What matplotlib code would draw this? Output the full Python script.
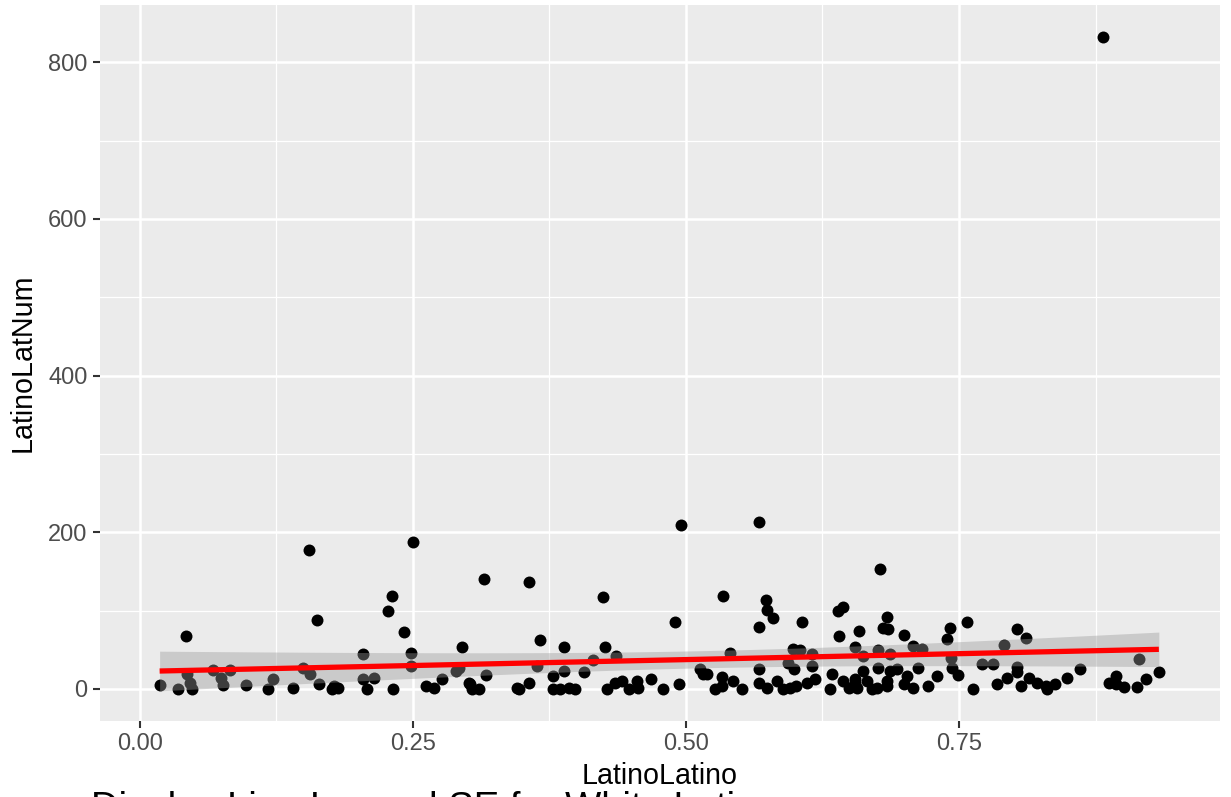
import numpy as np
import matplotlib
matplotlib.use("Agg")
from matplotlib import pyplot as plt
from matplotlib.ticker import MultipleLocator

plt.rcParams['font.family'] = ['Liberation Sans', 'DejaVu Sans']

# share of Latino population vs Latino count
latino_share = [
    0.018, 0.035, 0.042, 0.043, 0.046, 0.048, 0.067, 0.074, 0.076, 0.082,
    0.097, 0.117, 0.122, 0.140, 0.149, 0.156, 0.155, 0.162, 0.164, 0.176,
    0.178, 0.181, 0.204, 0.204, 0.208, 0.214, 0.227, 0.231, 0.232, 0.242,
    0.248, 0.248, 0.250, 0.262, 0.269, 0.277, 0.289, 0.292, 0.295, 0.301,
    0.302, 0.304, 0.310, 0.315, 0.317, 0.345, 0.347, 0.356, 0.356, 0.364,
    0.366, 0.378, 0.378, 0.385, 0.388, 0.388, 0.393, 0.398, 0.407, 0.415,
    0.424, 0.426, 0.428, 0.436, 0.435, 0.441, 0.448, 0.455, 0.456, 0.468,
    0.479, 0.490, 0.494, 0.495, 0.513, 0.516, 0.519, 0.527, 0.533, 0.534,
    0.533, 0.540, 0.543, 0.551, 0.567, 0.567, 0.567, 0.567, 0.573, 0.574,
    0.574, 0.580, 0.583, 0.589, 0.593, 0.595, 0.598, 0.599, 0.601, 0.604,
    0.606, 0.611, 0.615, 0.615, 0.618, 0.632, 0.634, 0.639, 0.644, 0.640,
    0.644, 0.649, 0.655, 0.655, 0.658, 0.662, 0.662, 0.657, 0.666, 0.670,
    0.678, 0.684, 0.680, 0.685, 0.676, 0.687, 0.676, 0.675, 0.684, 0.687,
    0.693, 0.700, 0.708, 0.716, 0.712, 0.702, 0.700, 0.708, 0.722, 0.730,
    0.739, 0.742, 0.743, 0.744, 0.749, 0.757, 0.763, 0.771, 0.781, 0.785,
    0.791, 0.794, 0.803, 0.803, 0.803, 0.807, 0.811, 0.814, 0.821, 0.830,
    0.831, 0.838, 0.849, 0.861, 0.882, 0.887, 0.894, 0.894, 0.901, 0.913,
    0.915, 0.921, 0.933, 0.655, 0.684,
]
latino_num = [
    5, 0, 68, 19, 8, 0, 24, 14, 5, 24,
    5, 0, 12, 1, 27, 19, 177, 88, 6, 0,
    4, 1, 45, 13, 0, 14, 100, 118, 0, 72,
    46, 29, 187, 4, 1, 12, 23, 27, 54, 8,
    6, 0, 0, 140, 18, 1, 0, 8, 136, 29,
    63, 17, 0, 0, 53, 23, 1, 0, 21, 37,
    117, 53, 0, 42, 8, 10, 0, 10, 1, 13,
    0, 86, 6, 209, 26, 19, 19, 0, 15, 118,
    4, 46, 10, 0, 213, 79, 26, 8, 113, 101,
    1, 90, 10, 0, 33, 1, 51, 26, 4, 49,
    86, 8, 45, 29, 13, 0, 19, 100, 104, 67,
    10, 1, 13, 53, 74, 42, 23, 1, 10, 0,
    153, 92, 78, 76, 49, 45, 27, 1, 10, 23,
    26, 69, 55, 51, 27, 17, 6, 1, 4, 17,
    64, 78, 40, 27, 18, 86, 0, 32, 32, 6,
    56, 14, 77, 28, 21, 4, 65, 14, 8, 4,
    0, 6, 14, 26, 832, 8, 17, 6, 3, 3,
    38, 12, 21, 8, 4,
]

x = np.array(latino_share)
y = np.array(latino_num)

# lm fit with 95% confidence band, like geom_smooth(method = "lm")
n = len(x)
slope, intercept = np.polyfit(x, y, 1)
resid = y - (intercept + slope * x)
s = np.sqrt(np.sum(resid ** 2) / (n - 2))
xs = np.linspace(x.min(), x.max(), 80)
fit = intercept + slope * xs
se = s * np.sqrt(1 / n + (xs - x.mean()) ** 2 / np.sum((x - x.mean()) ** 2))
t_crit = 1.974

fig = plt.figure(figsize=(12.31, 7.97), dpi=100)
ax = fig.add_axes([100 / 1231, 1 - 721 / 797, 1120 / 1231, 716 / 797])
ax.set_facecolor('#EBEBEB')
for sp in ax.spines.values():
    sp.set_visible(False)

ax.scatter(x, y, s=74, color='black', linewidths=0, zorder=3)
ax.fill_between(xs, fit - t_crit * se, fit + t_crit * se,
                color='#999999', alpha=0.4, linewidth=0, zorder=4)
ax.plot(xs, fit, color='red', lw=3.8, zorder=5, solid_capstyle='butt')

ax.set_xlim(-0.0366, 0.989)
ax.set_ylim(-41, 873)
ax.xaxis.set_major_locator(MultipleLocator(0.25))
ax.xaxis.set_minor_locator(MultipleLocator(0.125))
ax.yaxis.set_major_locator(MultipleLocator(200))
ax.yaxis.set_minor_locator(MultipleLocator(100))
ax.set_xticks([0, 0.25, 0.5, 0.75])
ax.set_xticklabels(['0.00', '0.25', '0.50', '0.75'])

ax.grid(which='major', color='white', lw=1.8, zorder=0)
ax.grid(which='minor', color='white', lw=0.9, zorder=0)
ax.set_axisbelow(True)

ax.tick_params(which='major', length=5, width=1.5, color='#333333',
               labelcolor='#4D4D4D', labelsize=17, pad=4)
ax.tick_params(which='minor', length=0)

ax.set_xlabel('LatinoLatino', fontsize=20.6, labelpad=5)
ax.set_ylabel('LatinoLatNum', fontsize=20.6, labelpad=8)

# caption sits mostly below the figure edge, as in the reference
fig.text(91 / 1231, -0.027, 'Display Line Lm and SE for White Latinos',
         fontsize=27.5, ha='left', va='baseline')

fig.savefig('out.png', dpi=100)
